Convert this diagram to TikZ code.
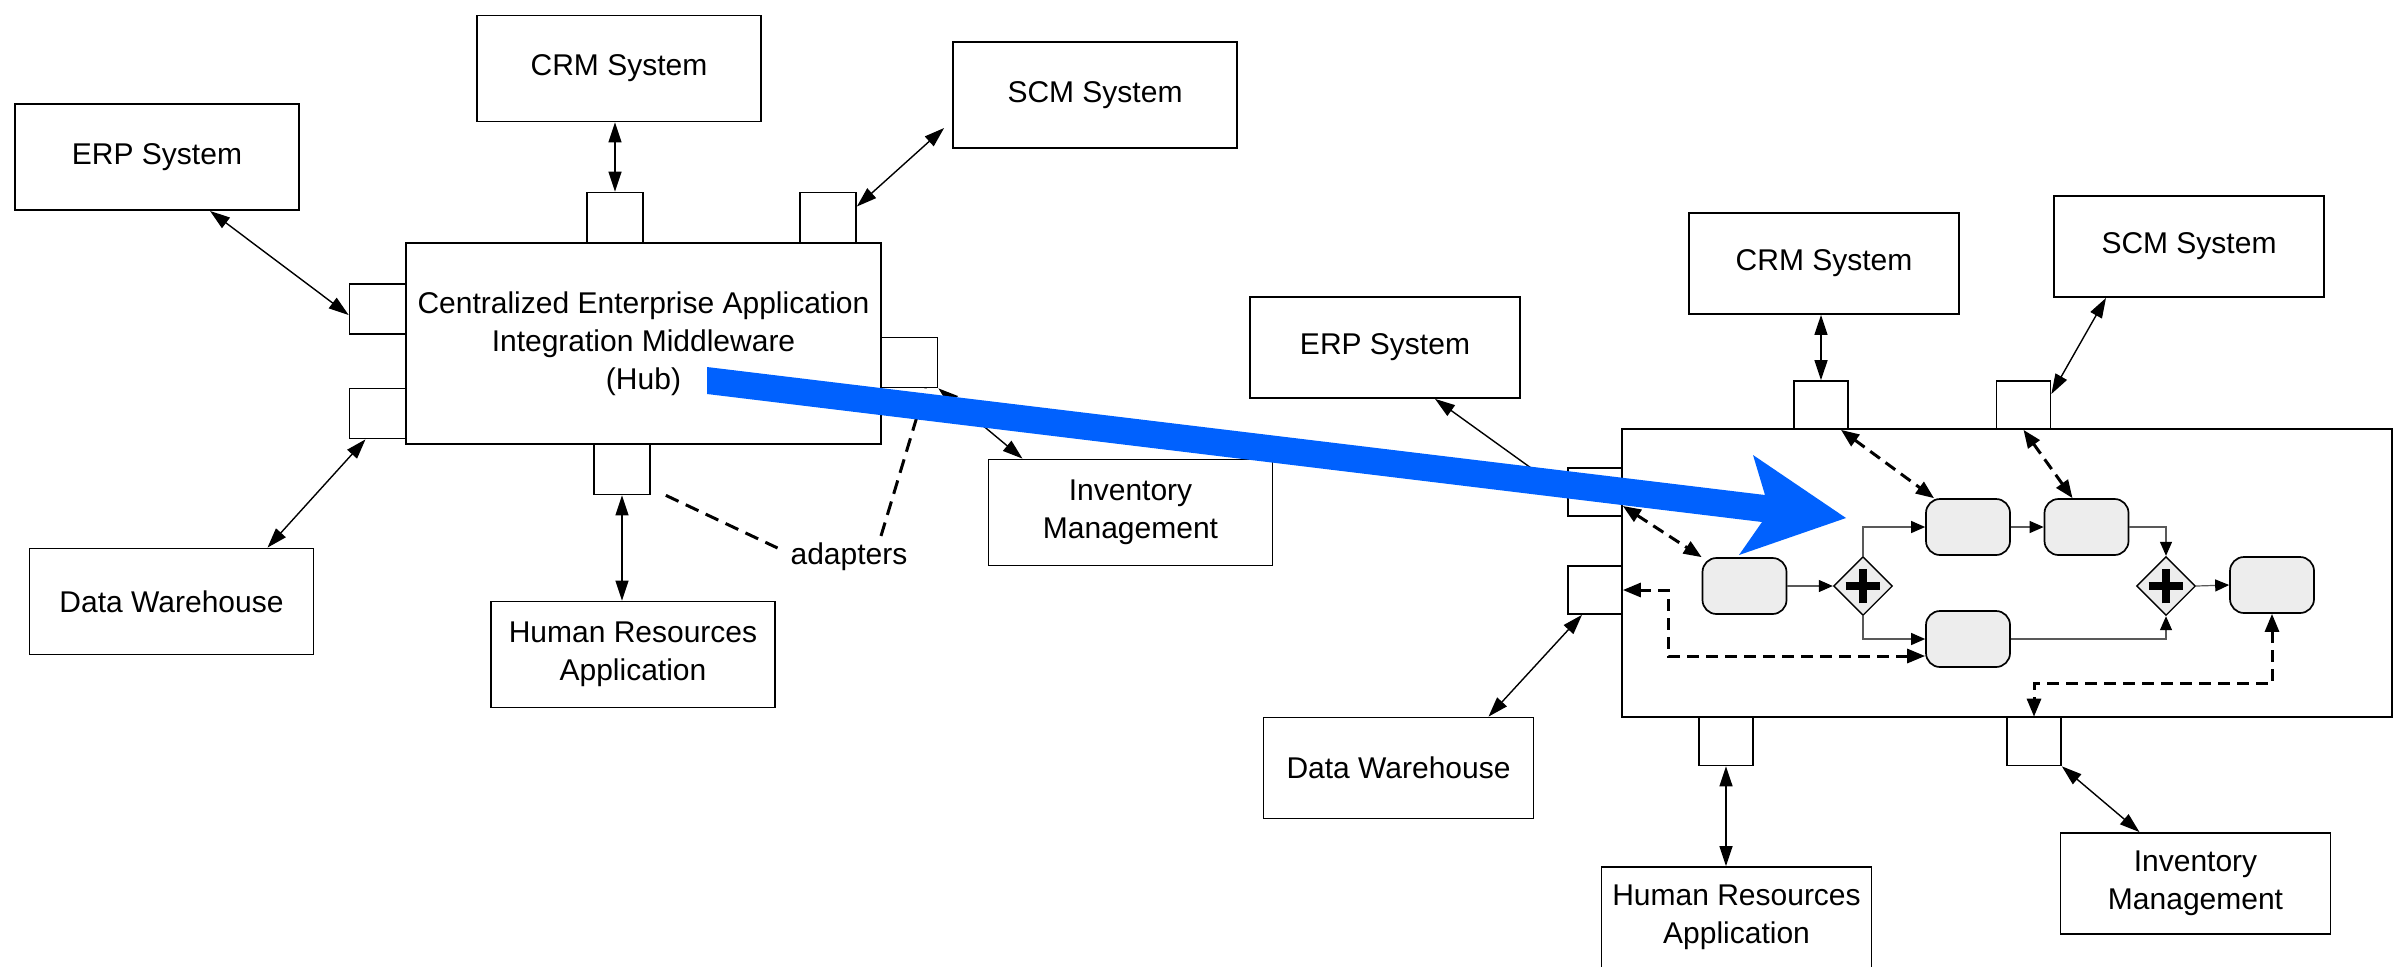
\documentclass[tikz,border=0pt]{standalone}
\usepackage{fontspec}
\setmainfont{Liberation Sans}
\usetikzlibrary{shapes,arrows.meta,positioning,calc}

\definecolor{arrowblue}{HTML}{0061FE}

\tikzset{
  sysbox/.style={rectangle, draw, line width=0.9pt, minimum width=142pt, minimum height=53pt, align=center, inner sep=2pt},
  sysboxs/.style={sysbox, minimum width=135pt, minimum height=50.5pt},
  adapter/.style={rectangle, draw, fill=white, line width=0.85pt, minimum width=28pt, minimum height=25pt, inner sep=0pt},
  adapters/.style={adapter, minimum width=27pt, minimum height=24pt},
  task/.style={rectangle, rounded corners=7pt, draw, line width=0.85pt, fill=gray!14, minimum width=42pt, minimum height=28pt, inner sep=0pt},
  gateway/.style={diamond, draw, line width=0.7pt, fill=gray!14, minimum width=29.5pt, minimum height=29.5pt, inner sep=0pt,
    path picture={\draw[line width=4pt] (path picture bounding box.center) +(-8.7pt,0) -- +(8.7pt,0)
      (path picture bounding box.center) +(0,-8.7pt) -- +(0,8.7pt);}},
  link/.style={<->, line width=0.7pt},
  msg/.style={{Triangle[length=9pt,width=7pt]}-{Triangle[length=9pt,width=7pt]}, line width=1.5pt, dash pattern=on 6pt off 3.5pt},
  seqflow/.style={-{Triangle[length=7pt,width=6pt,color=black]}, line width=0.6pt, draw=black!65},
  note/.style={line width=1.5pt, dash pattern=on 7pt off 4pt}
}

\begin{document}
\begin{tikzpicture}[x=0.5pt, y=-0.5pt, >={Triangle[length=10pt,width=6.5pt]},
  every node/.style={font=\fontsize{15pt}{19pt}\selectfont}]
\useasboundingbox (0,0) rectangle (2399,966);

\node[sysbox] (erpL) at (157,157) {ERP System};
\node[sysbox] (crmL) at (619,68.5) {CRM System};
\node[sysbox] (scmL) at (1095,95) {SCM System};
\node[sysbox, minimum width=237.5pt, minimum height=100.5pt] (hub) at (643.5,343.5) {Centralized Enterprise Application\\Integration Middleware\\(Hub)};
\node[sysbox] (dwL) at (171.5,601.5) {Data Warehouse};
\node[sysbox] (hrL) at (633,654.5) {Human Resources\\Application};
\node[sysbox] (invL) at (1130.5,512.5) {Inventory\\Management};
\node[adapter] (aCrmL) at (615,217.5) {};
\node[adapter] (aScmL) at (828,217.5) {};
\node[adapter] (aErpL) at (377.5,309) {};
\node[adapter] (aDwL) at (377.5,413.5) {};
\node[adapter] (aInvL) at (909.5,362.5) {};
\node[adapter] (aHrL) at (622,469.5) {};
\node (adpt) at (849,557) {adapters};

\draw[link] ([xshift=26.5pt]erpL.south) -- ([yshift=-3pt]aErpL.west);
\draw[link] (aCrmL.north) -- (aCrmL.north |- crmL.south);
\draw[link] ([yshift=5.5pt]aScmL.east) -- ([xshift=-4pt,yshift=-16.5pt]scmL.west);
\draw[link] ([xshift=48pt]dwL.north) -- ([xshift=-6pt]aDwL.south);
\draw[link] (aHrL.south) -- (aHrL.south |- hrL.north);
\draw[link] (aInvL.south east) -- ([xshift=-54pt]invL.north);
\draw[note] ([xshift=7.5pt]aHrL.south east) -- ([xshift=-3pt,yshift=4.5pt]adpt.west);
\draw[note] ([xshift=16pt]adpt.north) -- ([xshift=8pt]aInvL.south);

\node[sysboxs] (erpR) at (1385,347.5) {ERP System};
\node[sysboxs] (crmR) at (1824,263.5) {CRM System};
\node[sysboxs] (scmR) at (2189,246.5) {SCM System};
\node[sysboxs] (dwR) at (1398.5,768) {Data Warehouse};
\node[sysboxs] (hrR) at (1736.5,917.5) {Human Resources\\Application};
\node[sysboxs] (invR) at (2195.5,883.5) {Inventory\\Management};
\node[draw, line width=0.9pt, minimum width=385pt, minimum height=144pt] (pool) at (2007,573) {};
\node[adapters] (aCrmR) at (1821,405) {};
\node[adapters] (aScmR) at (2023.5,405) {};
\node[adapters] (aErpR) at (1595,492) {};
\node[adapters] (aDwR) at (1595,590) {};
\node[adapters] (aHrR) at (1726,741.5) {};
\node[adapters] (aInvR) at (2034,741.5) {};

\node[task] (tA) at (1744.5,586) {};
\node[gateway] (g1) at (1863,586) {};
\node[task] (tB) at (1968,527) {};
\node[task] (tC) at (2086.5,527) {};
\node[task] (tD) at (1968,639) {};
\node[gateway] (g2) at (2166,586) {};
\node[task] (tE) at (2272,585) {};

\draw[link] ([xshift=25pt]erpR.south) -- ([yshift=-1pt]aErpR.west);
\draw[link] (aCrmR.north) -- (aCrmR.north |- crmR.south);
\draw[link] ([yshift=5.5pt]aScmR.east) -- ([xshift=-41.5pt]scmR.south);
\draw[link] ([xshift=45pt]dwR.north) -- ([xshift=-6.5pt]aDwR.south);
\draw[link] (aHrR.south) -- (aHrR.south |- hrR.north);
\draw[link] (aInvR.south east) -- ([xshift=-28pt]invR.north);

\draw[seqflow] (tA.east) -- (g1.west);
\draw[seqflow] (g1.north) |- (tB.west);
\draw[seqflow] (g1.south) |- (tD.west);
\draw[seqflow] (tB.east) -- (tC.west);
\draw[seqflow] (tC.east) -| (g2.north);
\draw[seqflow] (tD.east) -| (g2.south);
\draw[seqflow] (g2.east) -- (tE.west);

\draw[msg] ([xshift=10pt]aCrmR.south) -- ([xshift=-17pt]tB.north);
\draw[msg] (aScmR.south) -- ([xshift=-7pt]tC.north);
\draw[msg] ([yshift=-7pt]aErpR.east) -- (tA.north west);
\draw[msg] ([yshift=-8.5pt]tD.west) -- ++(-257,0) |- (aDwR.east);
\draw[msg] (tE.south) -- ++(0,70) -| (aInvR.north);

\fill[arrowblue] (707,367) -- (1765,495) -- (1753,455) -- (1846,518) -- (1739,555) -- (1762,522) -- (707,394) -- cycle;
\end{tikzpicture}
\end{document}
